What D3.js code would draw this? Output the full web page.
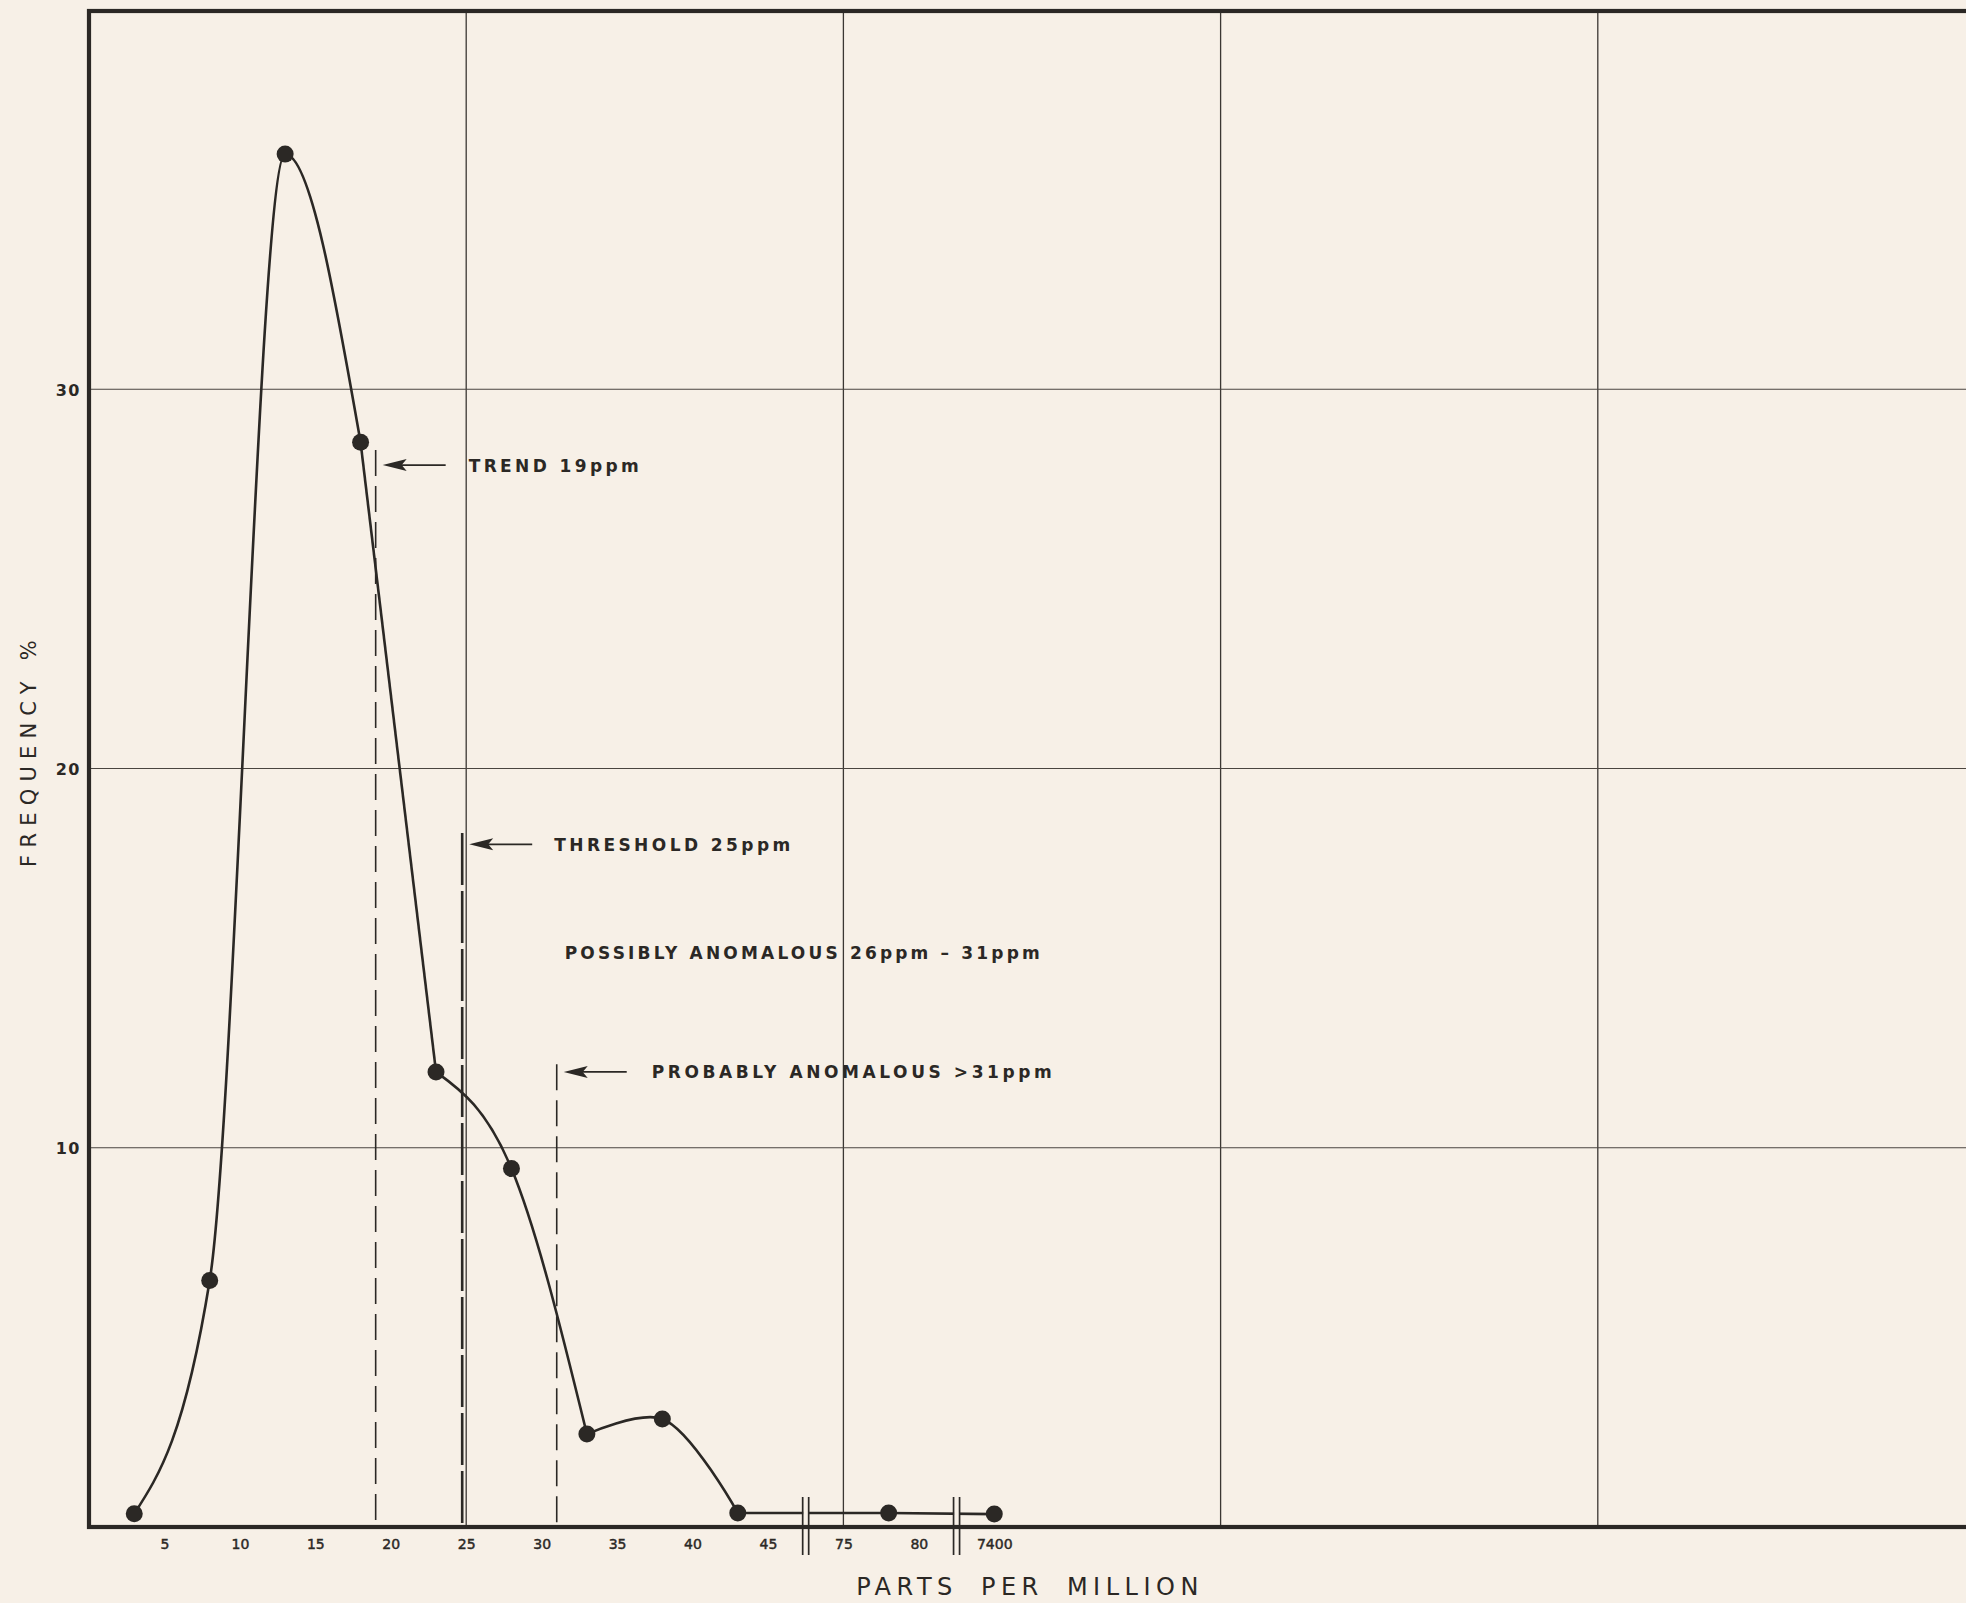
<!DOCTYPE html>
<html>
<head>
<meta charset="utf-8">
<script src="https://cdn.jsdelivr.net/npm/d3@7"></script>
<style>
  html, body { margin: 0; padding: 0; background: #f7f0e7; }
  svg { display: block; }
</style>
</head>
<body>
<svg id="chart" width="1966" height="1603"></svg>
<script>
// ---------- DATA ----------
// bin mid-points (integer-ppm bins 1-5, 6-10, ...), frequency in %
const ppm  = [3, 8, 13, 18, 23, 28, 33, 38, 43, 78, 7400];
const freq = [0.35, 6.5, 36.2, 28.6, 12.0, 9.45, 2.45, 2.85, 0.37, 0.37, 0.34];

const xTickValues = [5, 10, 15, 20, 25, 30, 35, 40, 45, 75, 80, 7400];
const xTickLabels = ["5", "10", "15", "20", "25", "30", "35", "40", "45", "75", "80", "7400"];
const yTickValues = [10, 20, 30];
const yTickLabels = ["10", "20", "30"];

// axis breaks (between these tick values)
const breakPairs = [[45, 75], [80, 7400]];

// reference markers
const markerPpm    = [19, 25, 31];
const markerTop    = [28.4, 18.3, 12.2];
const markerArrow  = [28.0, 18.0, 12.0];
const markerLabels = ["TREND 19ppm", "THRESHOLD 25ppm", "PROBABLY ANOMALOUS >31ppm"];
const noteText = "POSSIBLY ANOMALOUS 26ppm \u2013 31ppm";
const noteAt = [31, 15.15];

const xTitle = "PARTS PER MILLION";
const yTitle = "FREQUENCY %";

(function draw() {
// ---------- LAYOUT ----------
const ink = "#2b2825";
const bg = "#f7f0e7";
const pL = 89, pR = 1975, pT = 11, pB = 1527;
const gridCols = 5, unitsPerCol = 25;

const svg = d3.select("#chart");
svg.append("rect").attr("width", 1966).attr("height", 1603).attr("fill", bg);

// position scale (uniform chart paper)
const xPos = d3.scaleLinear().domain([0, gridCols * unitsPerCol]).range([pL, pR]);
// ppm scale: tick labels evenly spaced, broken axis -> polylinear scale
const step = 5;
const x = d3.scaleLinear()
  .domain([0, ...xTickValues])
  .range([0, ...xTickValues.map((_, i) => (i + 1) * step)].map(p => xPos(p)));
const y = d3.scaleLinear().domain([0, 40]).range([pB, 10]);

// ---------- GRID ----------
const g = svg.append("g");
g.selectAll(".vgrid").data(d3.range(1, gridCols)).join("line")
  .attr("x1", d => xPos(d * unitsPerCol)).attr("x2", d => xPos(d * unitsPerCol))
  .attr("y1", pT).attr("y2", pB)
  .attr("stroke", "#3b3733").attr("stroke-width", 1.3);
g.selectAll(".hgrid").data(yTickValues).join("line")
  .attr("x1", pL).attr("x2", pR)
  .attr("y1", d => y(d)).attr("y2", d => y(d))
  .attr("stroke", "#4a4540").attr("stroke-width", 1.2);

// ---------- AXES ----------
const yAxis = d3.axisLeft(y).tickValues(yTickValues)
  .tickFormat((d, i) => yTickLabels[i]).tickSize(0).tickPadding(8);
const ya = svg.append("g").attr("transform", `translate(${pL},0)`).call(yAxis);
ya.select(".domain").remove();
ya.selectAll("text")
  .attr("font-family", "DejaVu Sans").attr("font-size", 16).attr("font-weight", "bold")
  .attr("fill", ink).attr("dy", "0.36em").attr("letter-spacing", 1.5);

const xAxis = d3.axisBottom(x).tickValues(xTickValues)
  .tickFormat((d, i) => xTickLabels[i]).tickSize(0).tickPadding(12);
const xa = svg.append("g").attr("transform", `translate(0,${pB})`).call(xAxis);
xa.select(".domain").remove();
xa.selectAll("text")
  .attr("font-family", "DejaVu Sans").attr("font-size", 14)
  .attr("fill", ink).attr("stroke", ink).attr("stroke-width", 0.45);

// ---------- MARKER LINES ----------
const dashes = ["26,10", "52,6", "26,10"];
const widths = [1.6, 2.6, 1.6];
const lineNudge = [0, -4, 0];
const textOffset = [93, 88, 95];
const textLen = [170, 236, 400];
markerPpm.forEach((v, i) => {
  const mx = x(v) + lineNudge[i];
  svg.append("line")
    .attr("x1", mx).attr("x2", mx).attr("y1", y(markerTop[i])).attr("y2", pB)
    .attr("stroke", ink).attr("stroke-width", widths[i]).attr("stroke-dasharray", dashes[i]);
  const ay = y(markerArrow[i]);
  const tip = mx + 7, tail = mx + 70;
  svg.append("line").attr("x1", tip + 14).attr("x2", tail).attr("y1", ay).attr("y2", ay)
    .attr("stroke", ink).attr("stroke-width", 1.8);
  svg.append("path")
    .attr("d", `M${tip},${ay} L${tip + 24},${ay - 6} L${tip + 19},${ay} L${tip + 24},${ay + 6} Z`)
    .attr("fill", ink);
  svg.append("text").attr("x", x(v) + textOffset[i]).attr("y", ay + 6.5)
    .attr("font-family", "DejaVu Sans").attr("font-size", 17).attr("font-weight", "bold")
    .attr("fill", ink).attr("textLength", textLen[i]).attr("lengthAdjust", "spacing")
    .text(markerLabels[i]);
});
svg.append("text").attr("x", x(noteAt[0]) + 8).attr("y", y(noteAt[1]) + 6.5)
  .attr("font-family", "DejaVu Sans").attr("font-size", 17).attr("font-weight", "bold")
  .attr("fill", ink).attr("textLength", 475).attr("lengthAdjust", "spacing")
  .text(noteText);

// ---------- CURVE ----------
const pts = ppm.map((p, i) => [x(p), y(freq[i])]);
const runs = [
  [0, 3, d3.curveMonotoneX],
  [3, 4, d3.curveLinear],
  [4, 6, d3.curveMonotoneX],
  [6, 8, d3.curveCatmullRom],
  [8, 10, d3.curveLinear]
];
runs.forEach(([a, b, c]) => {
  svg.append("path")
    .attr("d", d3.line().curve(c)(pts.slice(a, b + 1)))
    .attr("fill", "none").attr("stroke", ink).attr("stroke-width", 2.6)
    .attr("stroke-linejoin", "round");
});

// ---------- BREAK MARKS ----------
breakPairs.forEach(([a, b]) => {
  const bx = (x(a) + x(b)) / 2;
  const y1 = pB - 30, y2 = pB + 28;
  svg.append("rect").attr("x", bx - 2.5).attr("y", y1).attr("width", 5).attr("height", pB - 4 - y1)
    .attr("fill", bg);
  [-3, 3].forEach(o => {
    svg.append("line").attr("x1", bx + o).attr("x2", bx + o).attr("y1", y1).attr("y2", y2)
      .attr("stroke", ink).attr("stroke-width", 1.7);
  });
});

// ---------- POINTS ----------
svg.selectAll(".pt").data(pts).join("circle")
  .attr("cx", d => d[0]).attr("cy", d => d[1]).attr("r", 8.5).attr("fill", ink);

// ---------- FRAME ----------
svg.append("rect").attr("x", pL).attr("y", pT)
  .attr("width", pR - pL).attr("height", pB - pT)
  .attr("fill", "none").attr("stroke", ink).attr("stroke-width", 4.2);

// ---------- TITLES ----------
svg.append("text").attr("x", 1030).attr("y", 1595).attr("text-anchor", "middle")
  .attr("font-family", "DejaVu Sans").attr("font-size", 24).attr("fill", ink)
  .attr("letter-spacing", 5.5).attr("word-spacing", 10)
  .text(xTitle);
svg.append("text").attr("transform", "translate(36,750) rotate(-90)").attr("text-anchor", "middle")
  .attr("font-family", "DejaVu Sans").attr("font-size", 21).attr("fill", ink)
  .attr("letter-spacing", 7.2)
  .text(yTitle);
})();
</script>
</body>
</html>
